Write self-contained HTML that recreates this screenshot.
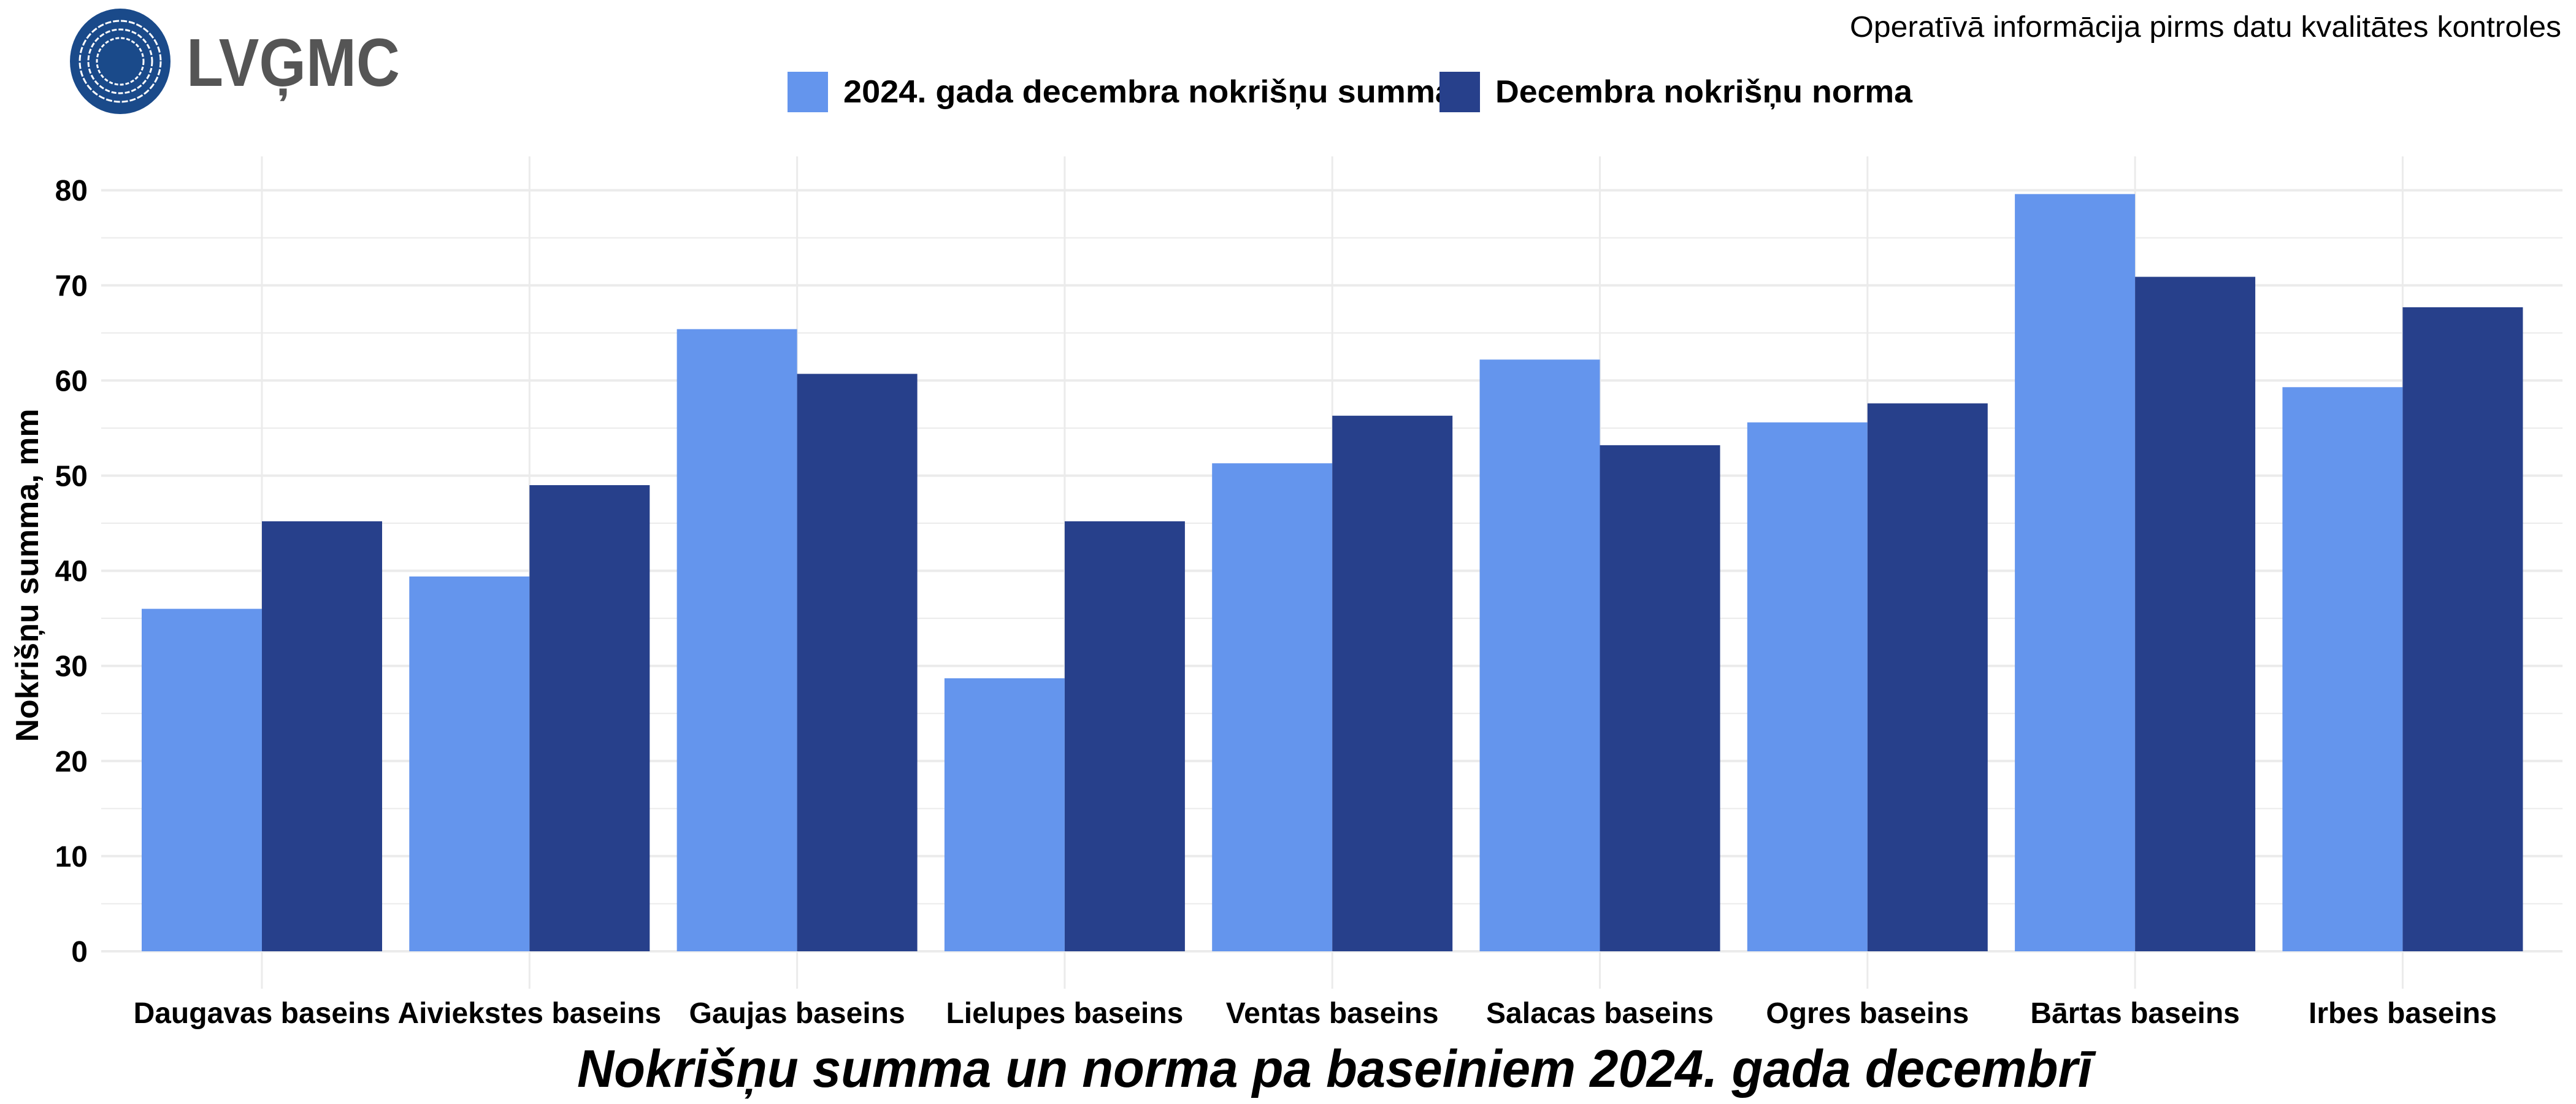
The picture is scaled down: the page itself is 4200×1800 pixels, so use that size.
<!DOCTYPE html>
<html><head><meta charset="utf-8"><style>
html,body{margin:0;padding:0;background:#fff;}
svg{display:block;font-family:"Liberation Sans",Arial,sans-serif;}
</style></head><body>
<svg id="chart" width="4200" height="1800" viewBox="0 0 4200 1800" xmlns="http://www.w3.org/2000/svg">
<g>
<ellipse cx="196" cy="100" rx="82" ry="86" fill="#1a4a8a"/>
<circle cx="196" cy="100" r="38" fill="none" stroke="#fff" stroke-width="3" stroke-dasharray="6 3"/>
<circle cx="196" cy="100" r="52" fill="none" stroke="#fff" stroke-width="3" stroke-dasharray="8 3"/>
<circle cx="196" cy="100" r="66" fill="none" stroke="#fff" stroke-width="3" stroke-dasharray="10 3"/>
<text x="304" y="140" font-size="110" fill="#555" font-weight="bold" textLength="348" lengthAdjust="spacingAndGlyphs">LVĢMC</text>
</g>
<text x="4176" y="60" font-size="48" text-anchor="end" fill="#000" textLength="1160" lengthAdjust="spacingAndGlyphs">Operatīvā informācija pirms datu kvalitātes kontroles</text>
<g>
<rect x="1284" y="117" width="66" height="66" fill="#6495ED"/>
<text x="1375" y="167" font-size="52" font-weight="bold" textLength="995" lengthAdjust="spacingAndGlyphs">2024. gada decembra nokrišņu summa</text>
<rect x="2347" y="117" width="66" height="66" fill="#27408B"/>
<text x="2438" y="167" font-size="52" font-weight="bold" textLength="680" lengthAdjust="spacingAndGlyphs">Decembra nokrišņu norma</text>
</g>
<g id="grid"></g>
<g id="bars"></g>
<g id="axes"></g>
<text transform="translate(62,938) rotate(-90)" font-size="52" font-weight="bold" text-anchor="middle">Nokrišņu summa, mm</text>
<text x="2176" y="1772" font-size="86" font-weight="bold" font-style="italic" text-anchor="middle" textLength="2470" lengthAdjust="spacingAndGlyphs">Nokrišņu summa un norma pa baseiniem 2024. gada decembrī</text>
</svg>
<script>
const categories = ["Daugavas baseins","Aiviekstes baseins","Gaujas baseins","Lielupes baseins","Ventas baseins","Salacas baseins","Ogres baseins","Bārtas baseins","Irbes baseins"];
const sum2024 = [36.0,39.4,65.4,28.7,51.3,62.2,55.6,79.6,59.3];
const norm = [45.2,49.0,60.7,45.2,56.3,53.2,57.6,70.9,67.7];
const yTicks = [0,10,20,30,40,50,60,70,80];

const NS="http://www.w3.org/2000/svg";
const plotLeft=165,plotRight=4178,plotTop=255,plotBottom=1612;
const y0=1551,pxPer=15.51;
function yScale(v){return y0-v*pxPer;}
function xCenter(i){return 427+i*436.3;}
const bw=196;
function mk(tag,attrs,parent){const e=document.createElementNS(NS,tag);for(const k in attrs)e.setAttribute(k,attrs[k]);parent.appendChild(e);return e;}
const gridG=document.getElementById('grid'),barsG=document.getElementById('bars'),axesG=document.getElementById('axes');
for(let v=5;v<=85;v+=10){const y=yScale(v);if(y<plotTop)continue;
 const l=mk('line',{x1:plotLeft,x2:plotRight,y1:y,y2:y,stroke:'#ebebeb','stroke-width':2},gridG);
 
 }
yTicks.forEach(v=>{const y=yScale(v);
 const l=mk('line',{x1:plotLeft,x2:plotRight,y1:y,y2:y,stroke:'#ebebeb','stroke-width':4},gridG);
 
 
 const t=mk('text',{x:143,y:y+17,'font-size':48,'font-weight':'bold','text-anchor':'end'},axesG);
 t.textContent=v;
 
 });
categories.forEach((c,i)=>{const x=xCenter(i);
 const l=mk('line',{x1:x,x2:x,y1:plotTop,y2:plotBottom,stroke:'#ebebeb','stroke-width':3},gridG);
 
 
 const b1=mk('rect',{x:x-bw,y:yScale(sum2024[i]),width:bw,height:y0-yScale(sum2024[i]),fill:'#6495ED'},barsG);
 
 
 const b2=mk('rect',{x:x,y:yScale(norm[i]),width:bw,height:y0-yScale(norm[i]),fill:'#27408B'},barsG);
 
 
 const t=mk('text',{x:x,y:1668,'font-size':48,'font-weight':'bold','text-anchor':'middle'},axesG);
 t.textContent=c;
 
 });
</script>
</body></html>
